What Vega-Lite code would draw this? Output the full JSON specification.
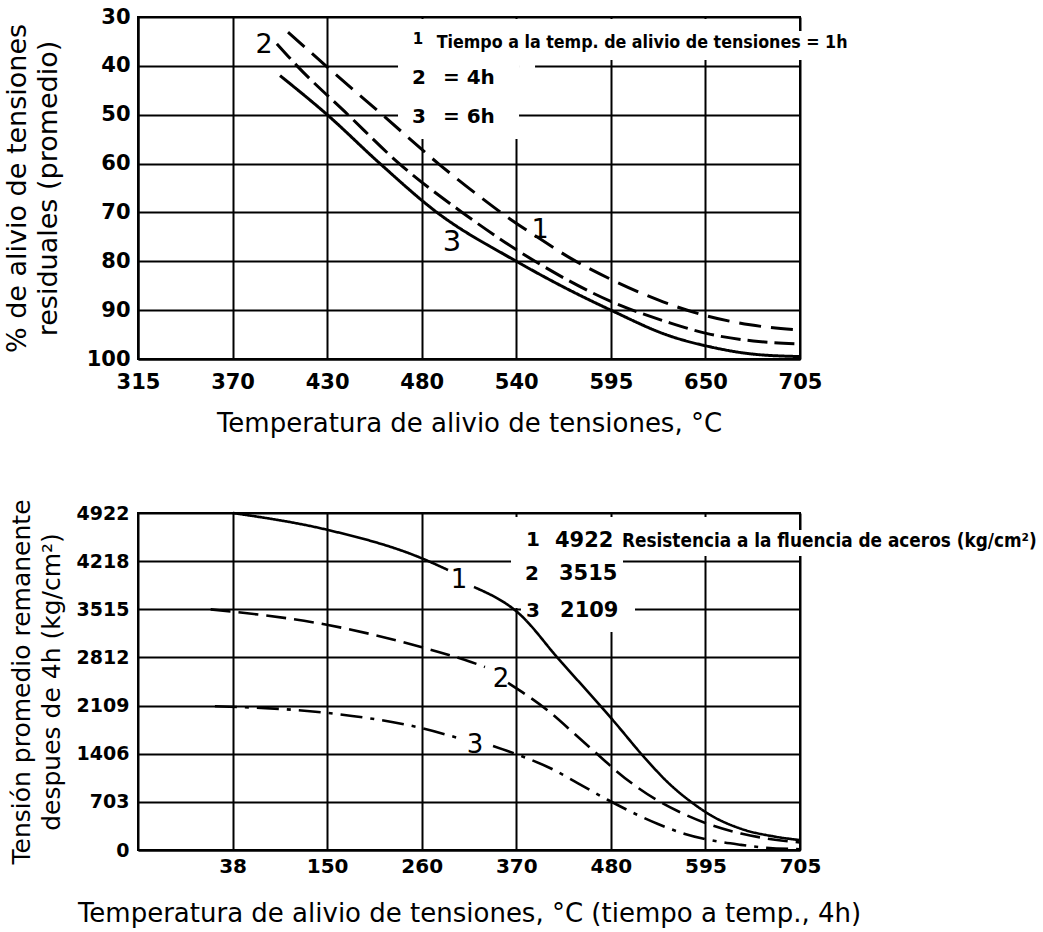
{
  "$schema": "https://vega.github.io/schema/vega-lite/v6.json",
  "background": "white",
  "padding": {"left": 2, "top": 5, "right": 5, "bottom": 5},
  "spacing": 60,
  "resolve": {"scale": {"strokeDash": "independent"}},
  "datasets": {
    "alivio": [
      {"curva": "1", "temp": 403.7, "alivio": 33.1},
      {"curva": "1", "temp": 426.6, "alivio": 40.2},
      {"curva": "1", "temp": 460.7, "alivio": 50.5},
      {"curva": "1", "temp": 493.0, "alivio": 60.3},
      {"curva": "1", "temp": 516.5, "alivio": 66.8},
      {"curva": "1", "temp": 534.7, "alivio": 71.5},
      {"curva": "1", "temp": 551.7, "alivio": 75.4},
      {"curva": "1", "temp": 568.8, "alivio": 79.2},
      {"curva": "1", "temp": 595.2, "alivio": 84.0},
      {"curva": "1", "temp": 624.0, "alivio": 88.3},
      {"curva": "1", "temp": 651.0, "alivio": 91.3},
      {"curva": "1", "temp": 675.1, "alivio": 93.0},
      {"curva": "1", "temp": 704.4, "alivio": 94.1},
      {"curva": "2", "temp": 397.2, "alivio": 35.5},
      {"curva": "2", "temp": 409.0, "alivio": 40.0},
      {"curva": "2", "temp": 438.9, "alivio": 50.0},
      {"curva": "2", "temp": 469.0, "alivio": 60.0},
      {"curva": "2", "temp": 506.0, "alivio": 70.0},
      {"curva": "2", "temp": 548.8, "alivio": 80.0},
      {"curva": "2", "temp": 593.3, "alivio": 88.2},
      {"curva": "2", "temp": 628.0, "alivio": 92.6},
      {"curva": "2", "temp": 650.0, "alivio": 94.8},
      {"curva": "2", "temp": 677.0, "alivio": 96.3},
      {"curva": "2", "temp": 704.4, "alivio": 96.9},
      {"curva": "3", "temp": 399.0, "alivio": 42.0},
      {"curva": "3", "temp": 426.7, "alivio": 50.0},
      {"curva": "3", "temp": 457.7, "alivio": 60.0},
      {"curva": "3", "temp": 491.2, "alivio": 70.0},
      {"curva": "3", "temp": 537.8, "alivio": 80.0},
      {"curva": "3", "temp": 563.5, "alivio": 84.9},
      {"curva": "3", "temp": 593.3, "alivio": 90.0},
      {"curva": "3", "temp": 628.1, "alivio": 95.3},
      {"curva": "3", "temp": 651.6, "alivio": 97.5},
      {"curva": "3", "temp": 676.8, "alivio": 99.0},
      {"curva": "3", "temp": 704.4, "alivio": 99.5}
    ],
    "remanente": [
      {"curva": "1", "tramo": "a", "temp": 38, "tension": 4922},
      {"curva": "1", "tramo": "a", "temp": 149.9, "tension": 4674},
      {"curva": "1", "tramo": "a", "temp": 259.2, "tension": 4265},
      {"curva": "1", "tramo": "a", "temp": 290.9, "tension": 4089},
      {"curva": "1", "tramo": "b", "temp": 321.4, "tension": 3841},
      {"curva": "1", "tramo": "b", "temp": 375.5, "tension": 3440},
      {"curva": "1", "tramo": "b", "temp": 420.1, "tension": 2800},
      {"curva": "1", "tramo": "b", "temp": 475.3, "tension": 2030},
      {"curva": "1", "tramo": "b", "temp": 487.1, "tension": 1860},
      {"curva": "1", "tramo": "b", "temp": 522.4, "tension": 1340},
      {"curva": "1", "tramo": "b", "temp": 549.4, "tension": 985},
      {"curva": "1", "tramo": "b", "temp": 581.1, "tension": 660},
      {"curva": "1", "tramo": "b", "temp": 599.9, "tension": 505},
      {"curva": "1", "tramo": "b", "temp": 635.1, "tension": 310},
      {"curva": "1", "tramo": "b", "temp": 675.1, "tension": 195},
      {"curva": "1", "tramo": "b", "temp": 704.4, "tension": 145},
      {"curva": "2", "tramo": "a", "temp": 12, "tension": 3515},
      {"curva": "2", "tramo": "a", "temp": 149.9, "tension": 3286},
      {"curva": "2", "tramo": "a", "temp": 259.2, "tension": 2965},
      {"curva": "2", "tramo": "a", "temp": 317.9, "tension": 2746},
      {"curva": "2", "tramo": "a", "temp": 334.3, "tension": 2673},
      {"curva": "2", "tramo": "b", "temp": 361.4, "tension": 2440},
      {"curva": "2", "tramo": "b", "temp": 411.9, "tension": 2000},
      {"curva": "2", "tramo": "b", "temp": 440.1, "tension": 1690},
      {"curva": "2", "tramo": "b", "temp": 475.3, "tension": 1300},
      {"curva": "2", "tramo": "b", "temp": 487.1, "tension": 1170},
      {"curva": "2", "tramo": "b", "temp": 510.6, "tension": 940},
      {"curva": "2", "tramo": "b", "temp": 537.6, "tension": 720},
      {"curva": "2", "tramo": "b", "temp": 564.6, "tension": 545},
      {"curva": "2", "tramo": "b", "temp": 599.9, "tension": 365},
      {"curva": "2", "tramo": "b", "temp": 635.1, "tension": 240},
      {"curva": "2", "tramo": "b", "temp": 675.1, "tension": 150},
      {"curva": "2", "tramo": "b", "temp": 704.4, "tension": 110},
      {"curva": "3", "tramo": "a", "temp": 17, "tension": 2100},
      {"curva": "3", "tramo": "a", "temp": 149.9, "tension": 2001},
      {"curva": "3", "tramo": "a", "temp": 259.2, "tension": 1782},
      {"curva": "3", "tramo": "a", "temp": 302.6, "tension": 1636},
      {"curva": "3", "tramo": "b", "temp": 343.8, "tension": 1520},
      {"curva": "3", "tramo": "b", "temp": 376.6, "tension": 1375},
      {"curva": "3", "tramo": "b", "temp": 411.9, "tension": 1190},
      {"curva": "3", "tramo": "b", "temp": 440.1, "tension": 1000},
      {"curva": "3", "tramo": "b", "temp": 478.9, "tension": 730},
      {"curva": "3", "tramo": "b", "temp": 510.6, "tension": 530},
      {"curva": "3", "tramo": "b", "temp": 537.6, "tension": 380},
      {"curva": "3", "tramo": "b", "temp": 569.3, "tension": 235},
      {"curva": "3", "tramo": "b", "temp": 596.7, "tension": 150},
      {"curva": "3", "tramo": "b", "temp": 635.1, "tension": 75},
      {"curva": "3", "tramo": "b", "temp": 658.6, "tension": 40},
      {"curva": "3", "tramo": "b", "temp": 704.4, "tension": 12}
    ]
  },
  "vconcat": [
    {
      "width": 662,
      "height": 342,
      "layer": [
        {
          "data": {"values": [{}]},
          "mark": {"type": "rect", "fill": "white"},
          "encoding": {
            "x": {"datum": 468.3, "type": "quantitative"},
            "x2": {"datum": 539.4},
            "y": {"datum": 30.41, "type": "quantitative"},
            "y2": {"datum": 54.97}
          }
        },
        {
          "data": {"values": [{}]},
          "mark": {"type": "rect", "fill": "white"},
          "encoding": {
            "x": {"datum": 539.4, "type": "quantitative"},
            "x2": {"datum": 702.1},
            "y": {"datum": 30.41, "type": "quantitative"},
            "y2": {"datum": 38.8}
          }
        },
        {
          "data": {"values": [{}]},
          "mark": {"type": "rect", "fill": "white"},
          "encoding": {
            "x": {"datum": 702.1, "type": "quantitative"},
            "x2": {"datum": 709.2},
            "y": {"datum": 32.87, "type": "quantitative"},
            "y2": {"datum": 38.8}
          }
        },
        {
          "data": {"values": [{}]},
          "mark": {"type": "rect", "fill": "white"},
          "encoding": {
            "x": {"datum": 539.4, "type": "quantitative"},
            "x2": {"datum": 548.8},
            "y": {"datum": 38.8, "type": "quantitative"},
            "y2": {"datum": 42.28}
          }
        },
        {
          "data": {"name": "alivio"},
          "mark": {"type": "line", "color": "black", "strokeWidth": 3, "interpolate": "monotone"},
          "encoding": {
            "x": {
              "field": "temp", "type": "quantitative",
              "scale": {"domain": [315.56, 704.44], "nice": false, "zero": false},
              "axis": {
                "title": "Temperatura de alivio de tensiones, °C",
                "values": [315.56, 371.11, 426.67, 482.22, 537.78, 593.33, 648.89, 704.44],
                "labelExpr": "['315','370','430','480','540','595','650','705'][round((datum.value-315.56)/55.556)]",
                "labelFontSize": 21, "labelPadding": 12, "titlePadding": 18, "titleFontSize": 26,
                "labelFlush": false, "labelOverlap": false
              }
            },
            "y": {
              "field": "alivio", "type": "quantitative",
              "scale": {"domain": [30, 100], "reverse": true, "nice": false, "zero": false},
              "axis": {
                "title": ["% de alivio de tensiones", "residuales (promedio)"],
                "values": [30, 40, 50, 60, 70, 80, 90, 100],
                "labelFontSize": 21, "labelPadding": 8, "titlePadding": 24, "titleFontSize": 27,
                "titleLineHeight": 31, "labelFlush": false, "labelOverlap": false
              }
            },
            "strokeDash": {
              "field": "curva", "type": "nominal",
              "scale": {"domain": ["1", "2", "3"], "range": [[22, 10], [20, 7], [1, 0]]},
              "legend": null
            }
          }
        },
        {
          "data": {"values": [{}]},
          "mark": {"type": "text", "fontSize": 27, "align": "center", "baseline": "middle"},
          "encoding": {"x": {"datum": 389.6, "type": "quantitative"}, "y": {"datum": 35.7, "type": "quantitative"}, "text": {"value": "2"}}
        },
        {
          "data": {"values": [{}]},
          "mark": {"type": "text", "fontSize": 27, "align": "center", "baseline": "middle"},
          "encoding": {"x": {"datum": 551.7, "type": "quantitative"}, "y": {"datum": 73.6, "type": "quantitative"}, "text": {"value": "1"}}
        },
        {
          "data": {"values": [{}]},
          "mark": {"type": "text", "fontSize": 29, "align": "center", "baseline": "middle"},
          "encoding": {"x": {"datum": 500.0, "type": "quantitative"}, "y": {"datum": 76.1, "type": "quantitative"}, "text": {"value": "3"}}
        },
        {
          "data": {"values": [{}]},
          "mark": {"type": "text", "fontSize": 15, "fontWeight": "bold", "align": "center", "baseline": "middle"},
          "encoding": {"x": {"datum": 480.0, "type": "quantitative"}, "y": {"datum": 34.5, "type": "quantitative"}, "text": {"value": "1"}}
        },
        {
          "data": {"values": [{}]},
          "mark": {"type": "text", "font": "DejaVu Sans Condensed", "fontSize": 17.7, "fontWeight": "bold", "align": "left", "baseline": "middle"},
          "encoding": {"x": {"datum": 491.0, "type": "quantitative"}, "y": {"datum": 35.3, "type": "quantitative"}, "text": {"value": "Tiempo a la temp. de alivio de tensiones = 1h"}}
        },
        {
          "data": {"values": [{}]},
          "mark": {"type": "text", "fontSize": 20, "fontWeight": "bold", "align": "center", "baseline": "middle"},
          "encoding": {"x": {"datum": 480.6, "type": "quantitative"}, "y": {"datum": 42.5, "type": "quantitative"}, "text": {"value": "2"}}
        },
        {
          "data": {"values": [{}]},
          "mark": {"type": "text", "fontSize": 20, "fontWeight": "bold", "align": "left", "baseline": "middle"},
          "encoding": {"x": {"datum": 494.7, "type": "quantitative"}, "y": {"datum": 42.5, "type": "quantitative"}, "text": {"value": "= 4h"}}
        },
        {
          "data": {"values": [{}]},
          "mark": {"type": "text", "fontSize": 20, "fontWeight": "bold", "align": "center", "baseline": "middle"},
          "encoding": {"x": {"datum": 480.6, "type": "quantitative"}, "y": {"datum": 50.5, "type": "quantitative"}, "text": {"value": "3"}}
        },
        {
          "data": {"values": [{}]},
          "mark": {"type": "text", "fontSize": 20, "fontWeight": "bold", "align": "left", "baseline": "middle"},
          "encoding": {"x": {"datum": 494.7, "type": "quantitative"}, "y": {"datum": 50.5, "type": "quantitative"}, "text": {"value": "= 6h"}}
        }
      ]
    },
    {
      "width": 662,
      "height": 337,
      "layer": [
        {
          "data": {"values": [{}]},
          "mark": {"type": "rect", "fill": "white"},
          "encoding": {
            "x": {"datum": 364.9, "type": "quantitative"},
            "x2": {"datum": 697.4},
            "y": {"datum": 4863.6, "type": "quantitative"},
            "y2": {"datum": 4293.9}
          }
        },
        {
          "data": {"values": [{}]},
          "mark": {"type": "rect", "fill": "white"},
          "encoding": {
            "x": {"datum": 697.4, "type": "quantitative"},
            "x2": {"datum": 711.5},
            "y": {"datum": 4673.7, "type": "quantitative"},
            "y2": {"datum": 4293.9}
          }
        },
        {
          "data": {"values": [{}]},
          "mark": {"type": "rect", "fill": "white"},
          "encoding": {
            "x": {"datum": 364.9, "type": "quantitative"},
            "x2": {"datum": 496.5},
            "y": {"datum": 4293.9, "type": "quantitative"},
            "y2": {"datum": 3534.5}
          }
        },
        {
          "data": {"values": [{}]},
          "mark": {"type": "rect", "fill": "white"},
          "encoding": {
            "x": {"datum": 376.6, "type": "quantitative"},
            "x2": {"datum": 510.6},
            "y": {"datum": 3534.5, "type": "quantitative"},
            "y2": {"datum": 3183.9}
          }
        },
        {
          "data": {"name": "remanente"},
          "mark": {"type": "line", "color": "black", "strokeWidth": 2.6, "interpolate": "monotone"},
          "encoding": {
            "x": {
              "field": "temp", "type": "quantitative",
              "scale": {"domain": [-73.33, 704.44], "nice": false, "zero": false},
              "axis": {
                "title": "Temperatura de alivio de tensiones, °C (tiempo a temp., 4h)",
                "values": [37.78, 148.89, 260, 371.11, 482.22, 593.33, 704.44],
                "labelExpr": "['38','150','260','370','480','595','705'][round((datum.value-37.78)/111.11)]",
                "labelFontSize": 20, "labelPadding": 6, "titlePadding": 24, "titleFontSize": 26,
                "labelFlush": false, "labelOverlap": false
              }
            },
            "y": {
              "field": "tension", "type": "quantitative",
              "scale": {"domain": [0, 4922], "nice": false, "zero": false},
              "axis": {
                "title": ["Tensión promedio remanente", "despues de 4h (kg/cm²)"],
                "values": [0, 703, 1406, 2109, 2812, 3515, 4218, 4922],
                "format": "d",
                "labelFontSize": 19, "labelPadding": 9, "titlePadding": 12,
                "titleLineHeight": 30, "labelFlush": false, "labelOverlap": false
              }
            },
            "strokeDash": {
              "field": "curva", "type": "nominal",
              "scale": {"domain": ["1", "2", "3"], "range": [[1, 0], [20, 8], [22, 8, 4, 8]]},
              "legend": null
            },
            "detail": {"field": "tramo", "type": "nominal"}
          }
        },
        {
          "data": {"values": [{}]},
          "mark": {"type": "text", "fontSize": 26, "align": "center", "baseline": "middle"},
          "encoding": {"x": {"datum": 303.8, "type": "quantitative"}, "y": {"datum": 3943, "type": "quantitative"}, "text": {"value": "1"}}
        },
        {
          "data": {"values": [{}]},
          "mark": {"type": "text", "fontSize": 26, "align": "center", "baseline": "middle"},
          "encoding": {"x": {"datum": 353.2, "type": "quantitative"}, "y": {"datum": 2497, "type": "quantitative"}, "text": {"value": "2"}}
        },
        {
          "data": {"values": [{}]},
          "mark": {"type": "text", "fontSize": 26, "align": "center", "baseline": "middle"},
          "encoding": {"x": {"datum": 322.6, "type": "quantitative"}, "y": {"datum": 1534, "type": "quantitative"}, "text": {"value": "3"}}
        },
        {
          "data": {"values": [{}]},
          "mark": {"type": "text", "fontSize": 20, "fontWeight": "bold", "align": "center", "baseline": "middle"},
          "encoding": {"x": {"datum": 390.7, "type": "quantitative"}, "y": {"datum": 4528, "type": "quantitative"}, "text": {"value": "1"}}
        },
        {
          "data": {"values": [{}]},
          "mark": {"type": "text", "fontSize": 21, "fontWeight": "bold", "align": "left", "baseline": "middle"},
          "encoding": {"x": {"datum": 416.6, "type": "quantitative"}, "y": {"datum": 4513, "type": "quantitative"}, "text": {"value": "4922"}}
        },
        {
          "data": {"values": [{}]},
          "mark": {"type": "text", "font": "DejaVu Sans Condensed", "fontSize": 18.8, "fontWeight": "bold", "align": "left", "baseline": "middle"},
          "encoding": {"x": {"datum": 495.3, "type": "quantitative"}, "y": {"datum": 4513, "type": "quantitative"}, "text": {"value": "Resistencia a la fluencia de aceros (kg/cm²)"}}
        },
        {
          "data": {"values": [{}]},
          "mark": {"type": "text", "fontSize": 20, "fontWeight": "bold", "align": "center", "baseline": "middle"},
          "encoding": {"x": {"datum": 389.6, "type": "quantitative"}, "y": {"datum": 4031, "type": "quantitative"}, "text": {"value": "2"}}
        },
        {
          "data": {"values": [{}]},
          "mark": {"type": "text", "fontSize": 21, "fontWeight": "bold", "align": "left", "baseline": "middle"},
          "encoding": {"x": {"datum": 421.3, "type": "quantitative"}, "y": {"datum": 4031, "type": "quantitative"}, "text": {"value": "3515"}}
        },
        {
          "data": {"values": [{}]},
          "mark": {"type": "text", "fontSize": 20, "fontWeight": "bold", "align": "center", "baseline": "middle"},
          "encoding": {"x": {"datum": 390.7, "type": "quantitative"}, "y": {"datum": 3491, "type": "quantitative"}, "text": {"value": "3"}}
        },
        {
          "data": {"values": [{}]},
          "mark": {"type": "text", "fontSize": 21, "fontWeight": "bold", "align": "left", "baseline": "middle"},
          "encoding": {"x": {"datum": 422.5, "type": "quantitative"}, "y": {"datum": 3491, "type": "quantitative"}, "text": {"value": "2109"}}
        }
      ]
    }
  ],
  "config": {
    "view": {"stroke": "black", "strokeWidth": 2},
    "axis": {
      "grid": true, "gridColor": "black", "gridWidth": 2, "gridOpacity": 1,
      "domainColor": "black", "domainWidth": 2, "ticks": false,
      "labelFont": "DejaVu Sans", "labelFontWeight": "bold", "labelColor": "black",
      "titleFont": "DejaVu Sans", "titleFontWeight": "normal", "titleColor": "black", "titleFontSize": 25
    },
    "text": {"font": "DejaVu Sans", "color": "black"}
  }
}
